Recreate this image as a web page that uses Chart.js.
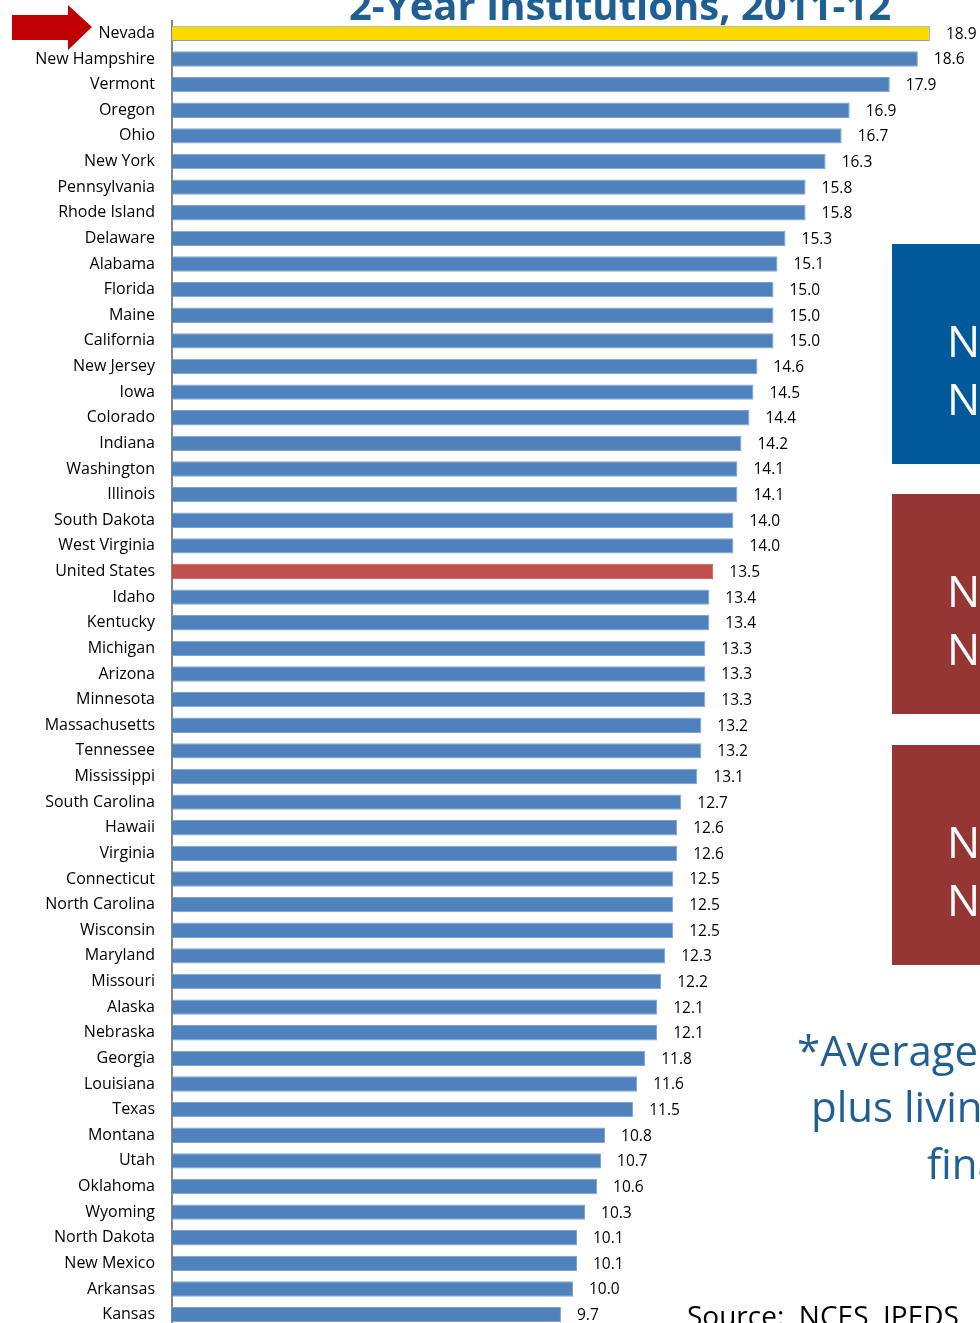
<!DOCTYPE html>
<html>
<head>
<meta charset="utf-8">
<script src="https://cdn.jsdelivr.net/npm/chart.js@4.4.1/dist/chart.umd.min.js"></script>
<style>
  html, body { margin: 0; padding: 0; background: #fff; overflow: hidden; }
  #wrap { position: absolute; left: 0; top: -6px; width: 980px; height: 1360px; }
</style>
</head>
<body>
<div id="wrap"><canvas id="chart" width="980" height="1360"></canvas></div>
<script>
// states, sorted as in the slide
const states = ['Nevada', 'New Hampshire', 'Vermont', 'Oregon', 'Ohio', 'New York', 'Pennsylvania',
    'Rhode Island', 'Delaware', 'Alabama', 'Florida', 'Maine', 'California', 'New Jersey', 'Iowa',
    'Colorado', 'Indiana', 'Washington', 'Illinois', 'South Dakota', 'West Virginia', 'United States',
    'Idaho', 'Kentucky', 'Michigan', 'Arizona', 'Minnesota', 'Massachusetts', 'Tennessee', 'Mississippi',
    'South Carolina', 'Hawaii', 'Virginia', 'Connecticut', 'North Carolina', 'Wisconsin', 'Maryland',
    'Missouri', 'Alaska', 'Nebraska', 'Georgia', 'Louisiana', 'Texas', 'Montana', 'Utah', 'Oklahoma',
    'Wyoming', 'North Dakota', 'New Mexico', 'Arkansas', 'Kansas'];

const values = [18.9, 18.6, 17.9, 16.9, 16.7, 16.3, 15.8, 15.8, 15.3, 15.1, 15.0, 15.0, 15.0, 14.6, 14.5,
    14.4, 14.2, 14.1, 14.1, 14.0, 14.0, 13.5, 13.4, 13.4, 13.3, 13.3, 13.3, 13.2, 13.2, 13.1,
    12.7, 12.6, 12.6, 12.5, 12.5, 12.5, 12.3, 12.2, 12.1, 12.1, 11.8, 11.6, 11.5, 10.8, 10.7, 10.6,
    10.3, 10.1, 10.1, 10.0, 9.7];

const titleText = '2-Year Institutions, 2011-12';
const noteLines = ['*Average tuition and fees', 'plus living expenses, after', 'financial aid'];
const sourceText = 'Source:  NCES, IPEDS';

const FONT = '"Open Sans", "Liberation Sans", sans-serif';
const BLUE = '#4f81bd';
const SHIFT = 6; // canvas is moved up by this much in the page

const barColors = states.map(s => s === 'Nevada' ? '#ffd800' : (s === 'United States' ? '#c0504d' : BLUE));
const borderColors = states.map(s => s === 'United States' ? '#c0504d' : '#7fa3cf');

// value labels to the right of each bar
const valueLabels = {
    id: 'valueLabels',
    afterDatasetsDraw(chart) {
        const ctx = chart.ctx;
        const meta = chart.getDatasetMeta(0);
        ctx.save();
        ctx.font = '15.5px ' + FONT;
        ctx.fillStyle = '#000';
        ctx.textAlign = 'left';
        ctx.textBaseline = 'middle';
        meta.data.forEach((bar, i) => {
            ctx.fillText(values[i].toFixed(1), bar.x + 16, bar.y + 1);
        });
        ctx.restore();
    }
};

// slide decorations around the chart (title, arrow, boxes, footnote)
const slideDeco = {
    id: 'slideDeco',
    afterDraw(chart) {
        const ctx = chart.ctx;
        ctx.save();
        ctx.translate(0, SHIFT);

        // title, cut at the top of the picture
        ctx.font = 'bold 40px ' + FONT;
        ctx.fillStyle = '#1f5f94';
        ctx.textAlign = 'center';
        ctx.textBaseline = 'alphabetic';
        ctx.fillText(titleText, 620, 20);

        // red arrow pointing at Nevada
        ctx.fillStyle = '#c00000';
        ctx.beginPath();
        ctx.moveTo(12, 15);
        ctx.lineTo(68, 15);
        ctx.lineTo(68, 5);
        ctx.lineTo(92, 27);
        ctx.lineTo(68, 50);
        ctx.lineTo(68, 40);
        ctx.lineTo(12, 40);
        ctx.closePath();
        ctx.fill();

        // boxes on the right
        const boxes = [
            { y: 244, color: '#00599b', lines: ['Nevada', 'National'] },
            { y: 494, color: '#963634', lines: ['Nevada', 'National'] },
            { y: 745, color: '#963634', lines: ['Nevada', 'National'] }
        ];
        boxes.forEach(b => {
            ctx.fillStyle = b.color;
            ctx.fillRect(892, b.y, 100, 220);
            ctx.fillStyle = '#fff';
            ctx.font = '44px ' + FONT;
            ctx.textAlign = 'left';
            ctx.fillText(b.lines[0], 947, b.y + 113);
            ctx.fillText(b.lines[1], 947, b.y + 171);
        });

        // footnote
        ctx.fillStyle = '#1f5f94';
        ctx.font = '42px ' + FONT;
        ctx.textAlign = 'left';
        ctx.fillText(noteLines[0], 797, 1066);
        ctx.fillText(noteLines[1], 811, 1122);
        ctx.fillText(noteLines[2], 927, 1179);

        // source
        ctx.fillStyle = '#000';
        ctx.font = '28px ' + FONT;
        ctx.fillText(sourceText, 687, 1326);

        ctx.restore();
    }
};

new Chart(document.getElementById('chart'), {
    type: 'bar',
    data: {
        labels: states,
        datasets: [{
            data: values,
            backgroundColor: barColors,
            borderColor: borderColors,
            borderWidth: 1,
            categoryPercentage: 1.0,
            barPercentage: 0.6
        }]
    },
    options: {
        indexAxis: 'y',
        responsive: false,
        animation: false,
        layout: { padding: { top: 10, bottom: 16.5, left: 0, right: 6 } },
        plugins: {
            legend: { display: false },
            tooltip: { enabled: false }
        },
        scales: {
            x: {
                display: false,
                min: 0,
                max: 20
            },
            y: {
                afterFit(scale) { scale.width = 172; },
                grid: { display: false, drawTicks: false },
                border: { display: true, color: '#868686', width: 2 },
                ticks: {
                    padding: 17,
                    color: '#000',
                    font: { family: FONT, size: 16 },
                    autoSkip: false
                }
            }
        }
    },
    plugins: [valueLabels, slideDeco]
});
</script>
</body>
</html>
